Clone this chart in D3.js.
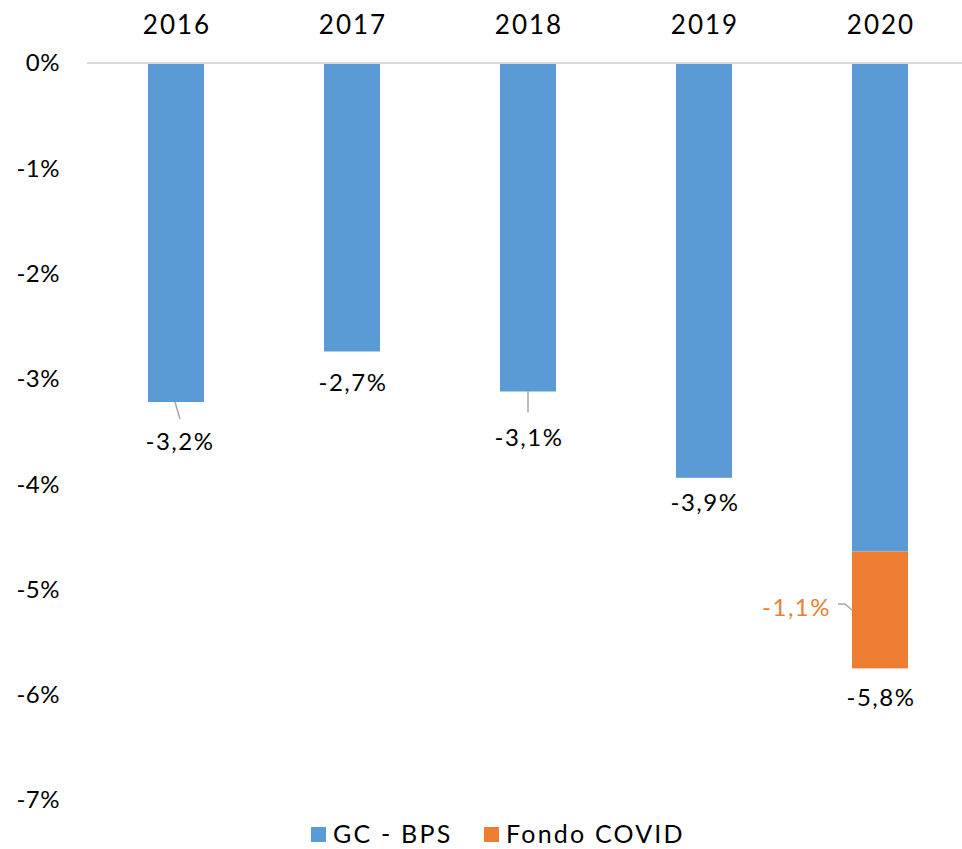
<!DOCTYPE html>
<html>
<head>
<meta charset="utf-8">
<script src="https://cdn.jsdelivr.net/npm/d3@7"></script>
<style>
  body { margin: 0; background: #fff; }
  svg text { font-family: Lato, "Noto Sans", sans-serif; fill: #000; }
</style>
</head>
<body>
<div id="chart"></div>
<script>
// data
const years = ['2016', '2017', '2018', '2019', '2020'];
const gcBps = [-3.22, -2.74, -3.12, -3.94, -4.64];
const fondoCovid = [0, 0, 0, 0, -1.11];
const totalLabels = ['-3,2%', '-2,7%', '-3,1%', '-3,9%', '-5,8%'];
const covidLabel = '-1,1%';
const yTicks = [0, -1, -2, -3, -4, -5, -6, -7];
const seriesNames = ['GC - BPS', 'Fondo COVID'];

const colors = {blue: '#5B9BD5', orange: '#ED7D31', grid: '#D9D9D9', leader: '#A6A6A6'};
// how far each total label sits below its bar end (some were dragged in the original)
const labelDy = [40, 31, 46, 25, 29];

const width = 962, height = 849;

const svg = d3.select('#chart')
  .append('svg')
  .attr('width', width)
  .attr('height', height);

const x = d3.scaleBand()
  .domain(years)
  .range([88, 968])
  .paddingInner(0.682)
  .paddingOuter(0.341);

const y = d3.scaleLinear()
  .domain([-7, 0])
  .range([800, 63]);

// y-axis labels
svg.append('g')
  .selectAll('text')
  .data(yTicks)
  .enter()
  .append('text')
  .attr('x', 60)
  .attr('y', d => y(d))
  .attr('dy', '0.35em')
  .attr('text-anchor', 'end')
  .style('font-size', '24px')
  .style('letter-spacing', '0.5px')
  .text(d => d + '%');

// year labels on top
svg.append('g')
  .selectAll('text')
  .data(years)
  .enter()
  .append('text')
  .attr('x', d => x(d) + x.bandwidth() / 2 + 1)
  .attr('y', 25)
  .attr('dy', '0.35em')
  .attr('text-anchor', 'middle')
  .style('font-size', '26px')
  .style('letter-spacing', '2px')
  .text(d => d);

// GC - BPS bars
svg.append('g')
  .selectAll('rect')
  .data(years)
  .enter()
  .append('rect')
  .attr('x', d => x(d))
  .attr('y', y(0))
  .attr('width', x.bandwidth())
  .attr('height', (d, i) => y(gcBps[i]) - y(0))
  .style('fill', colors.blue);

// Fondo COVID bars, stacked below
svg.append('g')
  .selectAll('rect')
  .data(years)
  .enter()
  .append('rect')
  .attr('x', d => x(d))
  .attr('y', (d, i) => y(gcBps[i]))
  .attr('width', x.bandwidth())
  .attr('height', (d, i) => y(gcBps[i] + fondoCovid[i]) - y(gcBps[i]))
  .style('fill', colors.orange);

// zero line
svg.append('line')
  .attr('x1', 87)
  .attr('x2', width)
  .attr('y1', y(0))
  .attr('y2', y(0))
  .style('stroke', colors.grid)
  .style('stroke-width', 2);

// total labels
const totals = years.map((d, i) => gcBps[i] + fondoCovid[i]);

svg.append('g')
  .selectAll('text')
  .data(years)
  .enter()
  .append('text')
  .attr('x', (d, i) => x(d) + x.bandwidth() / 2 + (i === 0 ? 3 : 0) + 1)
  .attr('y', (d, i) => y(totals[i]) + labelDy[i])
  .attr('dy', '0.35em')
  .attr('text-anchor', 'middle')
  .style('font-size', '24px')
  .style('letter-spacing', '1.5px')
  .text((d, i) => totalLabels[i]);

// leader lines for the moved labels
const lead = [
  {i: 0, dx0: -1, dx1: 4, len: 17},
  {i: 2, dx0: 0, dx1: 0, len: 21}
];
svg.append('g')
  .selectAll('line')
  .data(lead)
  .enter()
  .append('line')
  .attr('x1', d => x(years[d.i]) + x.bandwidth() / 2 + d.dx0)
  .attr('x2', d => x(years[d.i]) + x.bandwidth() / 2 + d.dx1)
  .attr('y1', d => y(totals[d.i]))
  .attr('y2', d => y(totals[d.i]) + d.len)
  .style('stroke', colors.leader)
  .style('stroke-width', 1.5);

// covid label with its leader
const ci = 4;
const covidMid = y(gcBps[ci] + fondoCovid[ci] / 2);
svg.append('text')
  .attr('x', x(years[ci]) - 21)
  .attr('y', covidMid - 2)
  .attr('dy', '0.35em')
  .attr('text-anchor', 'end')
  .style('font-size', '24px')
  .style('letter-spacing', '1.5px')
  .style('fill', colors.orange)
  .text(covidLabel);

svg.append('path')
  .attr('d', d3.line()([
    [x(years[ci]) - 14, covidMid - 6],
    [x(years[ci]) - 7, covidMid - 6],
    [x(years[ci]), covidMid]
  ]))
  .style('fill', 'none')
  .style('stroke', colors.leader)
  .style('stroke-width', 1.5);

// legend
const legend = [
  {name: seriesNames[0], color: colors.blue, x: 311},
  {name: seriesNames[1], color: colors.orange, x: 484}
];
const lg = svg.append('g')
  .selectAll('g')
  .data(legend)
  .enter()
  .append('g')
  .attr('transform', d => `translate(${d.x},827)`);

lg.append('rect')
  .attr('width', 15)
  .attr('height', 15)
  .style('fill', d => d.color);

lg.append('text')
  .attr('x', 22)
  .attr('y', 16)
  .style('font-size', '25px')
  .style('letter-spacing', '2.2px')
  .text(d => d.name);
</script>
</body>
</html>
